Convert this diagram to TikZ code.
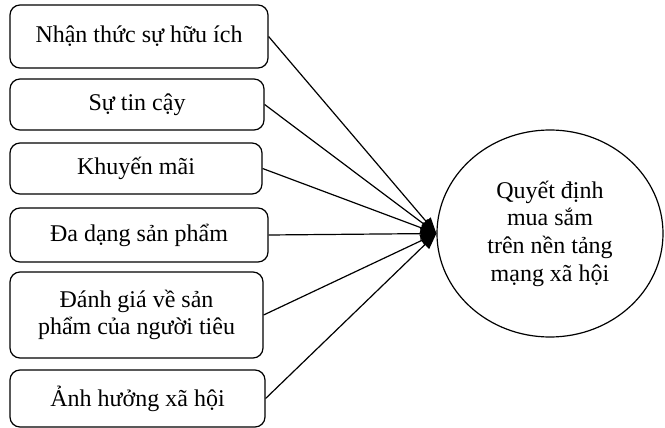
\documentclass[tikz,border=0pt]{standalone}
\usepackage{fontspec}
\setmainfont{Liberation Serif}
\usetikzlibrary{arrows.meta,shapes.geometric}
\begin{document}
\begin{tikzpicture}[x=0.5pt,y=-0.5pt,
    font=\fontsize{12}{13.8}\selectfont,
    factor/.style={draw,rounded corners=5pt,align=center,inner sep=0pt,line width=0.6pt},
    outcome/.style={draw,ellipse,align=center,inner sep=0pt,
      minimum width=113pt,minimum height=103.5pt,line width=0.6pt}]
      \useasboundingbox (0,0) rectangle (665,428);
      \draw
        (139,36.5) node[factor,minimum width=129pt,minimum height=31.5pt] (1){Nhận thức sự hữu ích}
        (137,104.5) node[factor,minimum width=127pt,minimum height=25.5pt] (2){Sự tin cậy}
        (136,168.5) node[factor,minimum width=126pt,minimum height=25.5pt] (3){Khuyến mãi}
        (139,235) node[factor,minimum width=129pt,minimum height=27pt] (4){Đa dạng sản phẩm}
        (136.5,315) node[factor,minimum width=126.5pt,minimum height=43pt] (5){Đánh giá về sản\\phẩm của người tiêu}
        (137.5,398.5) node[factor,minimum width=127.5pt,minimum height=28.5pt] (6){Ảnh hưởng xã hội}
        (550,233.5) node[outcome] (7){Quyết định\\mua sắm\\trên nền tảng\\mạng xã hội};
      \begin{scope}[-{Triangle[length=8pt,width=6pt]},line width=0.6pt]
        \draw (1.east) to (7.west);
        \draw (2.east) to (7.west);
        \draw (3.east) to (7.west);
        \draw (4.east) to (7.west);
        \draw (5.east) to (7.west);
        \draw (6.east) to (7.west);
      \end{scope}
    \end{tikzpicture}
\end{document}
